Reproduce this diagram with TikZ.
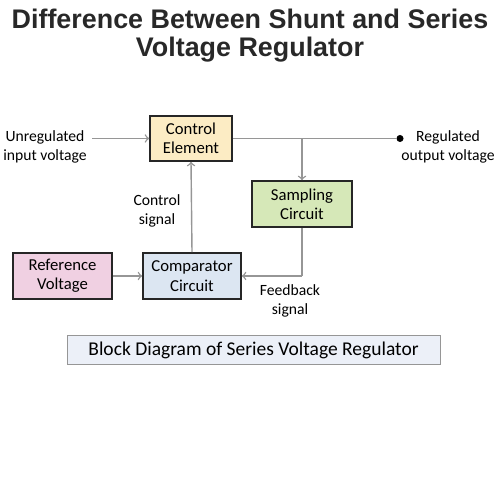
\documentclass[tikz,border=0pt]{standalone}
\usepackage{fontspec}
\setmainfont{Carlito}
\newfontfamily\titlefont{Liberation Sans}
\usepackage{tikz}
\usetikzlibrary{arrows, positioning, calc}
\definecolor{ctrlyellow}{RGB}{252,236,196}
\definecolor{samplegreen}{RGB}{214,232,184}
\definecolor{refpink}{RGB}{240,208,226}
\definecolor{compblue}{RGB}{220,230,242}
\definecolor{capblue}{RGB}{236,240,248}
\definecolor{linegray}{RGB}{150,150,150}
\definecolor{titlegray}{RGB}{40,40,40}

\begin{document}
\begin{tikzpicture}[
    block/.style={draw=black!85, line width=0.9pt, minimum width=2cm, minimum height=0.92cm, align=center, font=\fontsize{9.5}{11}\selectfont},
    wire/.style={draw=linegray, line width=0.8pt},
    lbl/.style={align=center, font=\fontsize{8.9}{11.2}\selectfont},
    >=to
]
\useasboundingbox (0,0) rectangle (10,10);

% Title
\node[titlegray, font=\titlefont\bfseries\fontsize{15.3}{17}\selectfont] (title1) at (5, 9.62) {Difference Between Shunt and Series};
\node[titlegray, font=\titlefont\bfseries\fontsize{15.3}{17}\selectfont] (title2) at (5, 9.01) {Voltage Regulator};

% Blocks
\node[block, fill=ctrlyellow, minimum width=1.64cm, minimum height=0.9cm] (control) at (3.82, 7.23) {Control\\Element};
\node[block, fill=samplegreen] (sampling) at (6.04, 5.92) {Sampling\\Circuit};
\node[block, fill=refpink, minimum width=1.98cm] (reference) at (1.25, 4.48) {Reference\\Voltage};
\node[block, fill=compblue, minimum width=1.96cm] (comparator) at (3.84, 4.48) {Comparator\\Circuit};

% Labels
\node[lbl] (input) at (0.9, 7.06) {Unregulated\\input voltage};
\node[lbl] (output) at (8.96, 7.06) {Regulated\\output voltage};
\node[lbl] (ctrlsig) at (3.14, 5.78) {Control\\signal};
\node[lbl] (fbsig) at (5.8, 3.98) {Feedback\\signal};

% Connections
\coordinate (instart) at (1.84, 7.23);
\coordinate (branch) at (sampling.north |- control.east);
\coordinate (corner) at (sampling.south |- comparator.east);
\node[circle, fill=black, inner sep=0pt, minimum size=4pt] (dot) at (8.0, 7.23) {};
\draw[wire, ->] (instart) -- (control.west);
\draw[wire] (control.east) -- (dot);
\draw[wire, ->] (branch) -- (sampling.north);
\draw[wire] (sampling.south) -- (corner);
\draw[wire, ->] (corner) -- (comparator.east);
\draw[wire, ->] (reference.east) -- (comparator.west);
\draw[wire, ->] (comparator.north) -- (control.south);

% Caption
\node[draw=linegray, fill=capblue, minimum width=7.46cm, minimum height=0.48cm, font=\fontsize{11.1}{13}\selectfont] (caption) at (5.07, 3.0) {Block Diagram of Series Voltage Regulator};
\end{tikzpicture}
\end{document}
